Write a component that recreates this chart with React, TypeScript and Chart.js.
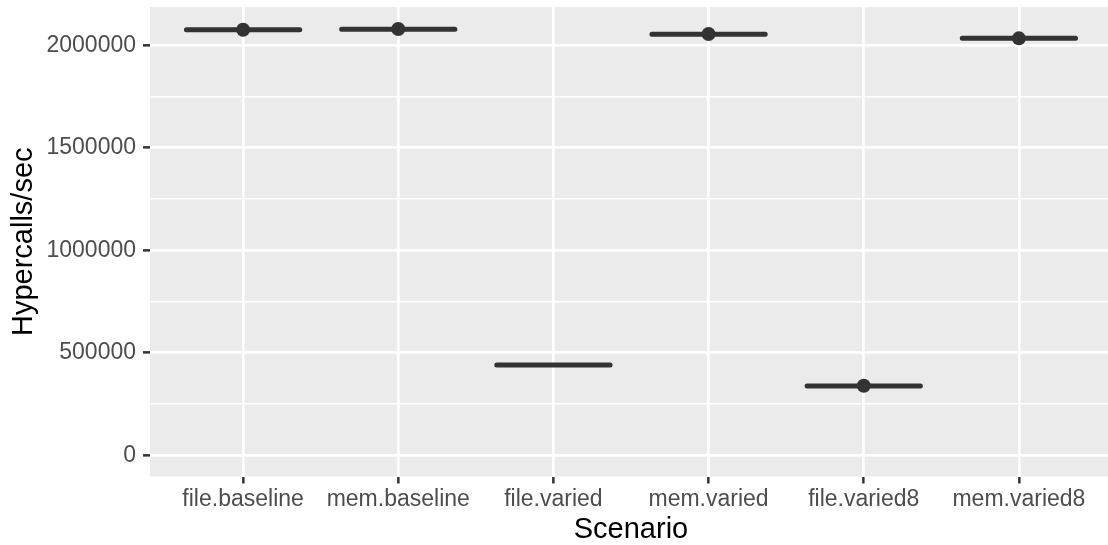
import React, { useEffect, useRef } from "react";
import { Chart, registerables } from "chart.js";

Chart.register(...registerables);

const categories = ["file.baseline", "mem.baseline", "file.varied", "mem.varied", "file.varied8", "mem.varied8"];
const medians = [2075700, 2078600, 440300, 2054200, 337800, 2034000];
const outlierCategoryIndex = [0, 1, 3, 4, 5];
const outlierValues = [2076000, 2079500, 2055000, 338500, 2034000];
const yMajorTicks = [0, 500000, 1000000, 1500000, 2000000];
const yMinorTicks = [250000, 750000, 1250000, 1750000];

const FONT = "'Liberation Sans', Arial, Helvetica, sans-serif";
const BOX_HALF = 0.365;

export default function App() {
  const ref = useRef<HTMLCanvasElement>(null);

  useEffect(() => {
    document.body.style.margin = "0";
    const canvas = ref.current!;
    const boxData: any[] = [];
    medians.forEach((m, i) => {
      boxData.push({ x: i - BOX_HALF, y: m });
      boxData.push({ x: i + BOX_HALF, y: m });
      boxData.push({ x: i, y: null });
    });
    const pointData = outlierCategoryIndex.map((c, k) => ({ x: c, y: outlierValues[k] }));
    const allY = [...yMajorTicks, ...yMinorTicks].sort((a, b) => a - b);
    const isMajor = (v: number) => yMajorTicks.includes(v);

    const panelBg = {
      id: "panelBg",
      beforeDraw(chart: any) {
        const { ctx, chartArea } = chart;
        ctx.save();
        ctx.fillStyle = "#EBEBEB";
        ctx.fillRect(chartArea.left, chartArea.top, chartArea.right - chartArea.left, chartArea.bottom - chartArea.top);
        ctx.restore();
      },
    };

    const chart = new Chart(canvas, {
      type: "line",
      data: {
        datasets: [
          {
            type: "line",
            data: boxData,
            borderColor: "#333333",
            borderWidth: 5,
            borderCapStyle: "round",
            pointRadius: 0,
            spanGaps: false,
            fill: false,
          } as any,
          {
            type: "scatter",
            data: pointData,
            backgroundColor: "#333333",
            borderWidth: 0,
            pointRadius: 7,
          } as any,
        ],
      },
      options: {
        responsive: false,
        animation: false,
        layout: { padding: { top: 7, right: 0, left: 0, bottom: 0 } },
        plugins: { legend: { display: false }, tooltip: { enabled: false } },
        scales: {
          x: {
            type: "linear",
            min: -0.6,
            max: 5.6,
            afterBuildTicks: (s: any) => {
              s.ticks = categories.map((_, i) => ({ value: i }));
            },
            afterFit: (s: any) => {
              s.height = 68.5;
              s.paddingLeft = 0;
              s.paddingRight = 0;
            },
            ticks: {
              callback: (v: any) => categories[Math.round(Number(v))] ?? "",
              color: "#4D4D4D",
              font: { family: FONT, size: 23 },
              padding: 2,
              maxRotation: 0,
              autoSkip: false,
            },
            grid: {
              color: "#FFFFFF",
              lineWidth: 2.7,
              tickColor: "#333333",
              tickLength: 7,
              tickWidth: 2.5,
            },
            border: { display: false },
            title: {
              display: true,
              text: "Scenario",
              color: "#000000",
              font: { family: FONT, size: 29, lineHeight: 1 },
              padding: { top: 0, bottom: 0.5 },
            },
          },
          y: {
            type: "linear",
            min: -104000,
            max: 2187000,
            afterBuildTicks: (s: any) => {
              s.ticks = allY.map((v) => ({ value: v }));
            },
            afterFit: (s: any) => {
              s.width = 150;
              s.paddingTop = 0;
              s.paddingBottom = 0;
            },
            ticks: {
              callback: (v: any) => (isMajor(Number(v)) ? String(v) : ""),
              color: "#4D4D4D",
              font: { family: FONT, size: 23 },
              padding: 7,
              autoSkip: false,
            },
            grid: {
              color: "#FFFFFF",
              lineWidth: (c: any) => (isMajor(c.tick?.value) ? 2.7 : 1.4),
              tickColor: (c: any) => (isMajor(c.tick?.value) ? "#333333" : "rgba(0,0,0,0)"),
              tickLength: 7,
              tickWidth: 2.5,
            },
            border: { display: false },
            title: {
              display: true,
              text: "Hypercalls/sec",
              color: "#000000",
              font: { family: FONT, size: 29, lineHeight: 1 },
              padding: { top: 9.5, bottom: 0 },
            },
          },
        },
      } as any,
      plugins: [panelBg],
    });
    return () => chart.destroy();
  }, []);

  return (
    <div style={{ width: 1108, height: 545, overflow: "hidden", background: "#FFFFFF" }}>
      <canvas ref={ref} width={1119} height={545} style={{ display: "block" }} />
    </div>
  );
}
